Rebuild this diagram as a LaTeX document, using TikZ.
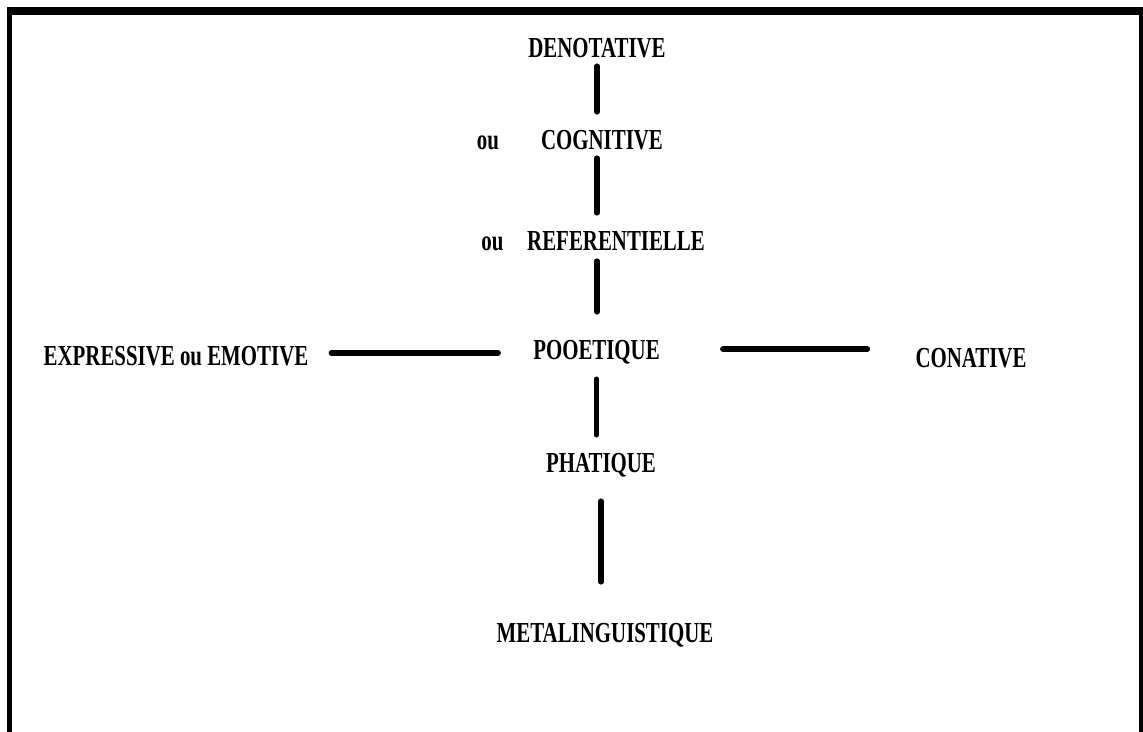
\documentclass[tikz,border=0pt]{standalone}
\usepackage{fontspec}
\setmainfont{Liberation Serif}
\usepackage{tikz}
\usetikzlibrary{calc}

\begin{document}
\begin{tikzpicture}[x=1pt,y=-1pt,
    fn/.style={font=\fontsize{29}{29}\selectfont\bfseries, inner sep=0pt,
      text height=20pt, text depth=0pt, xscale=0.72},
    bar/.style={line width=5.5pt, line cap=round}]
    \useasboundingbox (0,0) rectangle (1143,731);

    % Frame
    \draw[line width=5pt] (9.5,745) -- (9.5,11) (1141,11) -- (1141,745);
    \draw[line width=8pt] (7,11) -- (1143.5,11);

    % Functions
    \node[fn] (deno) at (597,47) {DENOTATIVE};
    \node[fn] (ou1) at (488,139) {ou};
    \node[fn] (cogn) at (602,139) {COGNITIVE};
    \node[fn] (ou2) at (492.5,240) {ou};
    \node[fn] (refe) at (616,240) {REFERENTIELLE};
    \node[fn] (poe) at (596.5,349) {POOETIQUE};
    \node[fn] (expr) at (176,355) {EXPRESSIVE ou EMOTIVE};
    \node[fn] (cona) at (971,357) {CONATIVE};
    \node[fn] (phat) at (601,462) {PHATIQUE};
    \node[fn] (meta) at (605,632) {METALINGUISTIQUE};

    % Vertical axis
    \draw[bar,shorten <=9pt,shorten >=17pt] (deno.south) -- (deno.south |- cogn.north);
    \draw[bar,shorten <=9pt,shorten >=17pt] (deno.south |- cogn.south) -- (deno.south |- refe.north);
    \draw[bar,shorten <=11pt,shorten >=27pt] (deno.south |- refe.south) -- (deno.south |- poe.north);
    \draw[bar,shorten <=20pt,shorten >=17pt] (poe.south) -- (poe.south |- phat.north);
    \draw[bar,shorten <=29pt,shorten >=40pt] (phat.south) -- (phat.south |- meta.north);

    % Horizontal axis
    \draw[bar,shorten <=23pt,shorten >=35pt] ([yshift=2pt]expr.east) -- ([yshift=2pt]expr.east -| poe.west);
    \draw[bar,shorten <=63pt,shorten >=48pt] (poe.east) -- (poe.east -| cona.west);
\end{tikzpicture}
\end{document}
